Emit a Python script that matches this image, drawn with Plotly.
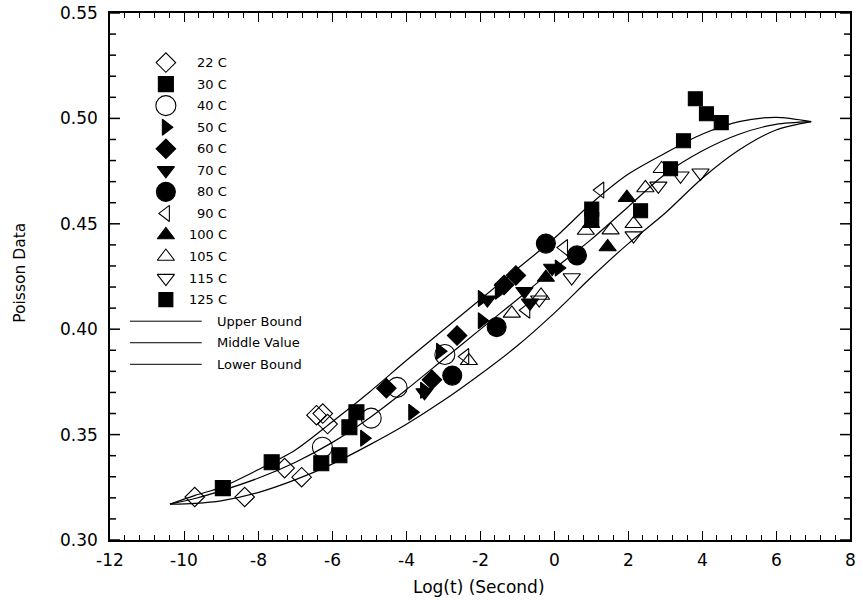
import plotly.graph_objects as go

# ---- measured data (log time, Poisson's ratio) ----
t22 = [-9.71, -8.36, -7.28, -6.82, -6.42, -6.25, -6.12]
v22 = [0.3204, 0.3204, 0.3341, 0.3298, 0.3592, 0.3600, 0.3550]

t30 = [-8.95, -7.63, -6.29, -5.80, -5.53, -5.34]
v30 = [0.3246, 0.3369, 0.3364, 0.3402, 0.3535, 0.3606]

t40 = [-6.26, -4.94, -4.24, -2.95]
v40 = [0.3440, 0.3578, 0.3724, 0.3880]

t50 = [-5.13, -3.83, -3.51, -3.08, -1.95, -1.95, -1.49, 0.13]
v50 = [0.3483, 0.3606, 0.3710, 0.3895, 0.4146, 0.4040, 0.4180, 0.4290]

t60 = [-4.53, -3.30, -2.62, -1.35, -1.03]
v60 = [0.3720, 0.3760, 0.3970, 0.4210, 0.4255]

t70 = [-3.50, -1.80, -0.80, -0.65, -0.05]
v70 = [0.3700, 0.4140, 0.4180, 0.4125, 0.4290]

t80 = [-2.75, -1.55, -0.22, 0.62]
v80 = [0.3780, 0.4010, 0.4406, 0.4350]

t90 = [-2.40, -0.75, 0.27, 1.25]
v90 = [0.3870, 0.4090, 0.4387, 0.4660]

t100 = [-0.22, 1.00, 1.45, 1.97]
v100 = [0.4245, 0.4500, 0.4390, 0.4624]

t105 = [-2.30, -1.14, -0.35, 0.86, 1.53, 2.15, 2.47, 2.91]
v105 = [0.3850, 0.4075, 0.4160, 0.4468, 0.4470, 0.4500, 0.4670, 0.4761]

t115 = [-0.40, 0.48, 2.15, 2.82, 3.42, 3.96]
v115 = [0.4140, 0.4245, 0.4444, 0.4680, 0.4728, 0.4742]

t125 = [1.02, 1.02, 2.34, 3.15, 3.50, 3.82, 4.12, 4.52]
v125 = [0.4570, 0.4520, 0.4562, 0.4761, 0.4894, 0.5093, 0.5022, 0.4980]

# ---- bound curves ----
t_up = [-10.38, -9.7, -9.0, -8.0, -7.0, -6.0, -5.0, -4.0, -3.0, -2.0, -1.0, 0.0, 1.0, 2.0, 3.0, 4.0, 5.0, 6.0, 6.95]
v_up = [0.3170, 0.3212, 0.3249, 0.3333, 0.3426, 0.3560, 0.3700, 0.3850, 0.3995, 0.4140, 0.4285, 0.4430,
        0.4595, 0.4735, 0.4835, 0.4925, 0.4985, 0.5005, 0.4985]

t_mid = [-10.38, -9.7, -9.0, -8.0, -7.0, -6.0, -5.0, -4.0, -3.0, -2.0, -1.0, 0.0, 1.0, 2.0, 3.0, 4.0, 5.0, 6.0, 6.95]
v_mid = [0.3170, 0.3197, 0.3233, 0.3293, 0.3368, 0.3462, 0.3578, 0.3712, 0.3855, 0.3998, 0.4140, 0.4285,
         0.4425, 0.4580, 0.4735, 0.4845, 0.4925, 0.4972, 0.4985]

t_low = [-10.38, -9.7, -9.0, -8.0, -7.0, -6.0, -5.0, -4.0, -3.0, -2.0, -1.0, 0.0, 1.0, 2.0, 3.0, 4.0, 5.0, 6.0, 6.95]
v_low = [0.3170, 0.3174, 0.3186, 0.3225, 0.3285, 0.3360, 0.3450, 0.3548, 0.3660, 0.3785, 0.3920, 0.4075,
         0.4245, 0.4405, 0.4550, 0.4715, 0.4850, 0.4945, 0.4985]

# ---- axis ticks ----
x_ticks = [-12, -10, -8, -6, -4, -2, 0, 2, 4, 6, 8]
x_tick_text = ["-12", "-10", "-8", "-6", "-4", "-2", "0", "2", "4", "6", "8"]
y_ticks = [0.30, 0.35, 0.40, 0.45, 0.50, 0.55]
y_tick_text = ["0.30", "0.35", "0.40", "0.45", "0.50", "0.55"]
y_minor_per_major = 5           # 0.01 steps between labelled ticks
X_RANGE = [-12, 8]
Y_RANGE = [0.30, 0.55]

# ---- series styling ----
series = [
    ("22 C", t22, v22, "diamond-open", 15),
    ("30 C", t30, v30, "square", 15),
    ("40 C", t40, v40, "circle-open", 20),
    ("50 C", t50, v50, "triangle-right", 14),
    ("60 C", t60, v60, "diamond", 15),
    ("70 C", t70, v70, "triangle-down", 15),
    ("80 C", t80, v80, "circle", 19),
    ("90 C", t90, v90, "triangle-left-open", 14),
    ("100 C", t100, v100, "triangle-up", 15),
    ("105 C", t105, v105, "triangle-up-open", 15),
    ("115 C", t115, v115, "triangle-down-open", 15),
    ("125 C", t125, v125, "square", 14),
]
curves = [
    ("Upper Bound", t_up, v_up),
    ("Middle Value", t_mid, v_mid),
    ("Lower Bound", t_low, v_low),
]

FONT = "DejaVu Sans, Verdana, sans-serif"
BLACK = "black"
PLOT_W = 742   # plot-area width in px (863 - 110 - 11)


def fx(frac):
    """Horizontal fraction of the plot area -> x data value."""
    return X_RANGE[0] + frac * (X_RANGE[1] - X_RANGE[0])


def fy(frac):
    """Vertical fraction of the plot area -> y data value."""
    return Y_RANGE[0] + frac * (Y_RANGE[1] - Y_RANGE[0])


fig = go.Figure()

for name, tx, vy in curves:
    fig.add_trace(go.Scatter(x=tx, y=vy, mode="lines", name=name, showlegend=False,
                             line=dict(color=BLACK, width=1.2, shape="spline", smoothing=0.8)))

for name, tx, vy, sym, sz in series:
    fig.add_trace(go.Scatter(x=tx, y=vy, mode="markers", name=name, showlegend=False,
                             marker=dict(symbol=sym, size=sz, color=BLACK,
                                         line=dict(color=BLACK, width=1.1))))

# ---- hand-built key in the upper left ----
key_x = 0.0755          # symbol column
key_label_x = 0.1604    # right edge of the temperature labels
key_top = 0.906
key_step = 0.0409

for i, (name, tx, vy, sym, sz) in enumerate(series):
    ky = fy(key_top - i * key_step)
    fig.add_trace(go.Scatter(x=[fx(key_x)], y=[ky], mode="markers",
                             showlegend=False, hoverinfo="skip",
                             marker=dict(symbol=sym, size=sz, color=BLACK,
                                         line=dict(color=BLACK, width=1.1))))
    fig.add_annotation(x=fx(key_label_x), y=ky, text=name, showarrow=False,
                       xanchor="right", yanchor="middle", font=dict(family=FONT, size=13, color=BLACK))

for j, (name, tx, vy) in enumerate(curves):
    ky = fy(key_top - (len(series) + j) * key_step)
    fig.add_trace(go.Scatter(x=[fx(0.027), fx(0.124)], y=[ky, ky], mode="lines",
                             showlegend=False, hoverinfo="skip",
                             line=dict(color=BLACK, width=1)))
    fig.add_annotation(x=fx(0.1415), y=ky, text=name, showarrow=False,
                       xanchor="left", yanchor="middle", font=dict(family=FONT, size=13, color=BLACK))

# ---- tick labels, placed a little away from the frame ----
for v, s in zip(x_ticks, x_tick_text):
    fig.add_annotation(x=v, y=-0.038, xref="x", yref="paper", text=s, showarrow=False,
                       xanchor="center", yanchor="middle", font=dict(family=FONT, size=17, color=BLACK))
for v, s in zip(y_ticks, y_tick_text):
    fig.add_annotation(x=-0.0135, y=v, xref="paper", yref="y", text=s, showarrow=False,
                       xanchor="right", yanchor="middle", font=dict(family=FONT, size=17, color=BLACK))

# ---- inward tick marks on the left and right frame edges (one line trace) ----
y_step = (y_ticks[1] - y_ticks[0]) / y_minor_per_major
n_steps = int(round((Y_RANGE[1] - Y_RANGE[0]) / y_step))
tick_xs, tick_ys = [], []
for k in range(n_steps + 1):
    v = Y_RANGE[0] + k * y_step
    length = 10 if k % y_minor_per_major == 0 else 6
    w = length / PLOT_W
    for a, b in ((0, w), (1 - w, 1)):
        tick_xs += [fx(a), fx(b), None]
        tick_ys += [v, v, None]
fig.add_trace(go.Scatter(x=tick_xs, y=tick_ys, mode="lines", showlegend=False, hoverinfo="skip",
                         line=dict(color=BLACK, width=1.5), cliponaxis=False))

# ---- axis titles ----
fig.add_annotation(x=0.4987, y=-0.089, xref="paper", yref="paper", text="Log(t) (Second)",
                   showarrow=False, xanchor="center", yanchor="middle",
                   font=dict(family=FONT, size=17, color=BLACK))
fig.add_annotation(x=-0.1213, y=0.5076, xref="paper", yref="paper", text="Poisson Data",
                   showarrow=False, textangle=-90, xanchor="center", yanchor="middle",
                   font=dict(family=FONT, size=15.5, color=BLACK))

axis_common = dict(showgrid=False, zeroline=False, showline=True, linecolor=BLACK, linewidth=2,
                   mirror="allticks", tickwidth=1.2, tickcolor=BLACK, showticklabels=False)

fig.update_layout(
    width=863, height=606,
    margin=dict(l=110, r=11, t=12, b=66),
    paper_bgcolor="white", plot_bgcolor="white",
    showlegend=False,
    xaxis=dict(range=X_RANGE, tickmode="array", tickvals=x_ticks, ticks="inside", ticklen=9,
               minor=dict(tick0=-12, dtick=0.4, ticks="inside", ticklen=5, tickcolor=BLACK,
                          showgrid=False),
               **axis_common),
    yaxis=dict(range=Y_RANGE, tickmode="array", tickvals=y_ticks, ticks="",
               **axis_common),
)

fig.write_html("out.html")
